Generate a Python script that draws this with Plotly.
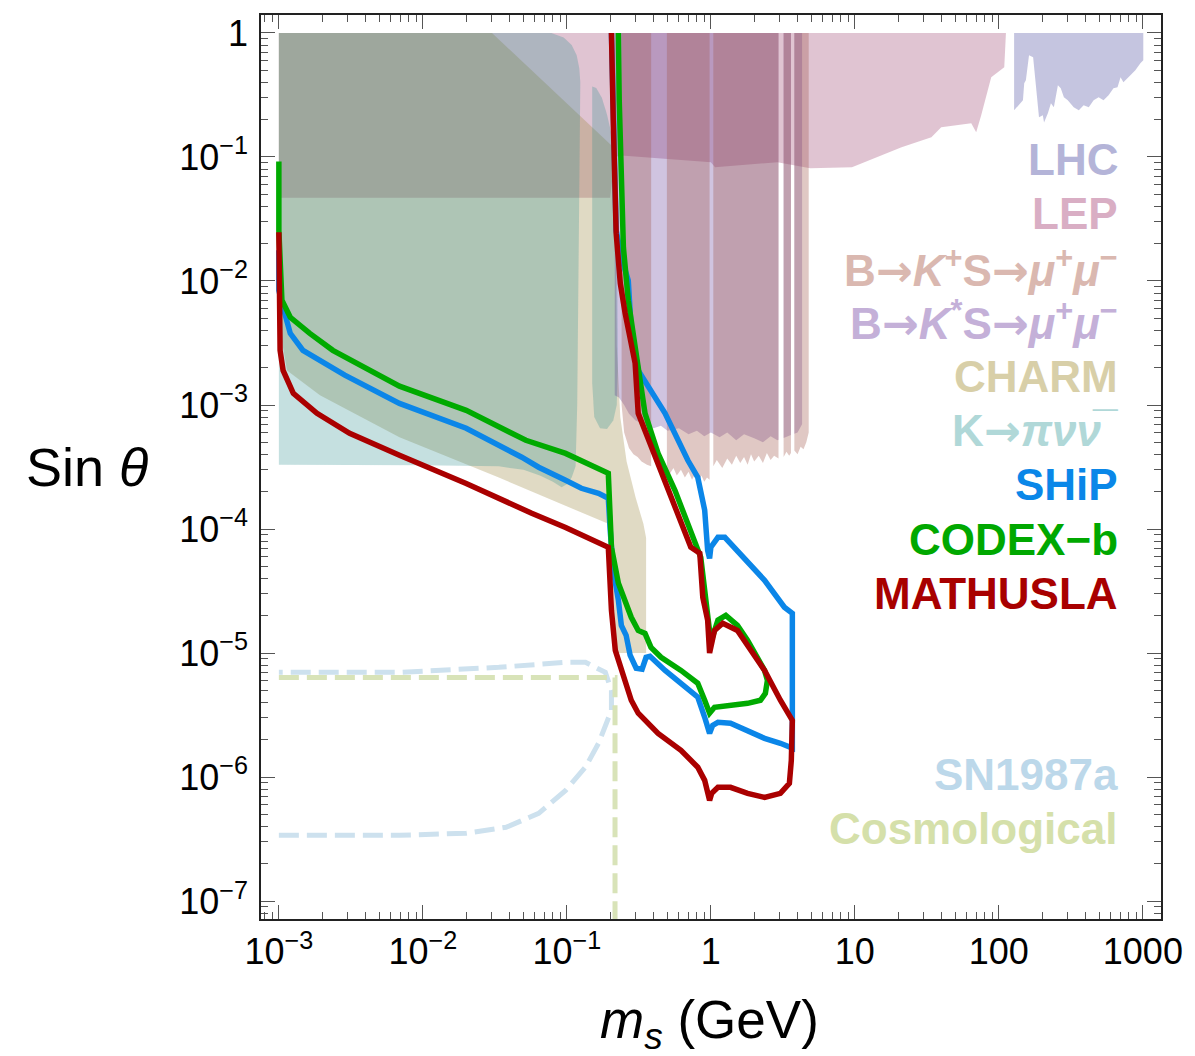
import numpy as np
import plotly.graph_objects as go

FONT = "Liberation Sans, Arial, Helvetica, sans-serif"
ARROW = "<span style=\"font-family:'DejaVu Sans'\">→</span>"

# ---------------------------------------------------------------------------
# Excluded regions: scalar mass m_s [GeV] and mixing sin(theta)
# ---------------------------------------------------------------------------
# LEP: lower edge of the excluded band (region extends up to sin(theta)=1)
lep_m = [1e-3, 0.2, 0.215, 0.239, 1.0, 1.07, 2.9, 4.9, 9.55, 14.2, 21.1, 34.0,
         39.8, 64.3, 69.6, 75.4, 88.5, 109.0, 112.0]
lep_s = [0.047, 0.047, 0.1, 0.103, 0.0906, 0.0826, 0.0906, 0.081, 0.0826, 0.0995,
         0.12, 0.144, 0.174, 0.187, 0.158, 0.217, 0.44, 0.53, 1.0]

# LHC: lower edge of the excluded band at high mass
lhc_m = [127.6, 147, 150, 154, 162, 173, 178, 187, 190, 202, 206, 219, 230, 241,
         257, 269, 283, 301, 316, 331, 359, 388, 421, 455, 493, 533, 578, 625,
         667, 700, 733, 782, 820, 887, 961, 1007]
lhc_s = [0.238, 0.287, 0.393, 0.416, 0.661, 0.637, 0.44, 0.238, 0.209, 0.217,
         0.19, 0.225, 0.271, 0.252, 0.379, 0.358, 0.303, 0.287, 0.271, 0.252,
         0.238, 0.261, 0.252, 0.287, 0.303, 0.287, 0.315, 0.358, 0.365, 0.44,
         0.4, 0.431, 0.456, 0.5, 0.57, 0.602]

# CHARM beam dump: closed contour
charm_m = [1e-3, 0.0302, 0.215, 0.222, 0.235, 0.26, 0.3, 0.34, 0.355, 0.355,
           0.22, 0.205, 0.194, 0.0337, 6.88e-3, 1.93e-3, 1.14e-3, 1.02e-3, 1e-3]
charm_s = [1.0, 1.0, 0.117, 3e-3, 8e-4, 3.5e-4, 1.8e-4, 1.1e-4, 8.5e-5, 1e-5,
           1e-5, 5e-5, 1.1e-4, 2.6e-4, 5.5e-4, 1.2e-3, 1.9e-3, 4e-3, 8e-3]

# K -> pi nu nubar: two pieces on either side of the pi0 window
kpi_m1 = [1e-3, 0.01, 0.0337, 0.05, 0.065, 0.08, 0.092, 0.1, 0.108, 0.115, 0.118,
          0.122, 0.124, 0.122, 0.117, 0.108, 0.095, 0.078, 1e-3]
kpi_s1 = [3.3e-4, 3.27e-4, 3.2e-4, 3.0e-4, 2.7e-4, 2.4e-4, 2.17e-4, 2.3e-4, 2.6e-4,
          3.2e-4, 1e-3, 0.05, 0.4, 0.52, 0.66, 0.8, 0.92, 1.0, 1.0]
kpi_m2 = [0.15, 0.16, 0.175, 0.19, 0.205, 0.215, 0.222, 0.226, 0.222, 0.21, 0.19,
          0.17, 0.155, 0.15]
kpi_s2 = [0.37, 0.36, 0.3, 0.22, 0.15, 0.1, 0.05, 2e-3, 1e-3, 7.5e-4, 6.4e-4,
          6.5e-4, 8e-4, 1.5e-3]

# B -> K* S -> mu mu : lower edge, with vetoed resonance windows
kstar_m = [0.215, 0.23, 0.25, 0.27, 0.3, 0.35, 0.4, 0.45, 0.5, 0.6, 0.7, 0.8, 0.9,
           1.0, 1.15, 1.3, 1.5, 1.7, 2.0, 2.3, 2.6, 2.9, 3.3, 3.7, 4.0, 4.3]
kstar_s = [1.2e-3, 1.15e-3, 1.0e-3, 8.5e-4, 7.5e-4, 7.0e-4, 6.5e-4, 6.8e-4, 6.2e-4,
           6.5e-4, 5.8e-4, 6.2e-4, 5.6e-4, 6.0e-4, 5.5e-4, 6.0e-4, 5.2e-4, 5.8e-4,
           5.4e-4, 5.0e-4, 5.6e-4, 5.2e-4, 5.5e-4, 5.8e-4, 6.0e-4, 7e-4]
kstar_veto = [(2.95, 3.2), (3.6, 3.8)]

# B -> K+ S -> mu mu : lower edge, with vetoed windows
kplus_m = [0.24, 0.25, 0.27, 0.29, 0.31, 0.33, 0.36, 0.385,
           0.495, 0.52, 0.55, 0.58, 0.62, 0.66, 0.7, 0.74, 0.78, 0.82, 0.86, 0.9, 0.94, 0.98,
           1.04, 1.1, 1.2, 1.3, 1.4, 1.5, 1.6, 1.7, 1.8, 1.9, 2.0, 2.15, 2.3, 2.45, 2.6, 2.75, 2.95,
           3.2, 3.35, 3.5, 3.6,
           3.8, 4.0, 4.2, 4.4, 4.6, 4.78]
kplus_s = [1.0e-3, 6e-4, 4.5e-4, 4.0e-4, 3.8e-4, 3.5e-4, 3.3e-4, 3.2e-4,
           3.0e-4, 2.8e-4, 3.1e-4, 2.7e-4, 3.0e-4, 2.6e-4, 2.9e-4, 2.5e-4, 2.8e-4, 2.4e-4,
           2.7e-4, 2.4e-4, 2.6e-4, 2.5e-4,
           3.2e-4, 3.6e-4, 3.1e-4, 3.7e-4, 3.3e-4, 3.9e-4, 3.4e-4, 3.8e-4, 3.3e-4, 4.0e-4,
           3.5e-4, 3.9e-4, 3.4e-4, 4.1e-4, 3.6e-4, 3.9e-4, 3.7e-4,
           3.8e-4, 4.2e-4, 3.9e-4, 4.1e-4,
           4.3e-4, 4.0e-4, 4.6e-4, 4.4e-4, 5e-4, 6e-4]
kplus_veto = [(0.385, 0.495), (0.98, 1.04), (2.95, 3.2), (3.6, 3.8)]

# Astrophysical / cosmological bounds (dashed)
sn_m = [1e-3, 6.88e-3, 0.02, 0.0378, 0.0637, 0.098, 0.1346, 0.166, 0.204, 0.204,
        0.185, 0.1346, 0.098, 0.0337, 6.88e-3, 1e-3]
sn_s = [3.39e-7, 3.39e-7, 3.52e-7, 3.93e-7, 5.09e-7, 7.8e-7, 1.2e-6, 1.87e-6, 3.45e-6,
        5.0e-6, 6.98e-6, 8.41e-6, 8.41e-6, 7.67e-6, 6.98e-6, 6.98e-6]
cosmo_m = [1e-3, 0.216, 0.216]
cosmo_s = [6.35e-6, 6.35e-6, 1e-8]

# ---------------------------------------------------------------------------
# Projected sensitivities
# ---------------------------------------------------------------------------
ship_m = [1.0e-3, 1.0e-3, 1.07e-3, 1.2e-3, 1.47e-3, 2.87e-3, 6.88e-3, 0.02, 0.0486,
          0.0637, 0.098, 0.126, 0.166, 0.194, 0.2, 0.21, 0.228, 0.239, 0.258, 0.275,
          0.303, 0.333, 0.355, 0.378, 0.481, 0.62, 0.811, 0.906, 0.98, 1.03, 1.12,
          1.37, 1.8, 2.36, 3.04, 3.68, 3.68, 3.24, 2.36, 1.37, 1.25, 1.12, 1.0, 0.98,
          0.95, 0.906, 0.811, 0.692, 0.481, 0.313, 0.28, 0.267, 0.239, 0.22, 0.217,
          0.21, 0.204]
ship_s = [0.0177, 0.0084, 0.00614, 0.00378, 0.00276, 0.00174, 0.00103, 6.49e-4,
          3.79e-4, 3.15e-4, 2.47e-4, 2.13e-4, 1.94e-4, 1.77e-4, 9.77e-5, 4.65e-5,
          2.66e-5, 1.67e-5, 1.39e-5, 9.59e-6, 7.54e-6, 7.4e-6, 9.23e-6, 9.42e-6,
          7.24e-6, 5.7e-6, 4.4e-6, 3.03e-6, 2.25e-6, 2.61e-6, 2.76e-6, 2.71e-6,
          2.38e-6, 2.05e-6, 1.87e-6, 1.71e-6, 2.09e-5, 2.34e-5, 3.86e-5, 7.67e-5,
          8.57e-5, 8.57e-5, 7.13e-5, 5.8e-5, 6.73e-5, 1.42e-4, 2.61e-4, 3.58e-4,
          8.57e-4, 1.9e-3, 4.0e-3, 0.0101, 0.0155, 0.0256, 0.0649, 0.287, 1.0]

codex_m = [1.0e-3, 1.0e-3, 1.05e-3, 1.2e-3, 1.64e-3, 2.37e-3, 6.88e-3, 0.02, 0.0519,
           0.098, 0.194, 0.2, 0.204, 0.228, 0.254, 0.28, 0.313, 0.349, 0.384, 0.451,
           0.62, 0.811, 0.906, 0.98, 1.06, 1.37, 1.8, 2.21, 2.39, 2.47, 2.36, 1.8,
           1.53, 1.27, 1.12, 1.0, 0.921, 0.851, 0.563, 0.43, 0.349, 0.313, 0.267,
           0.247, 0.239, 0.231, 0.228]
codex_s = [0.092, 0.0256, 0.00699, 0.0051, 0.00378, 0.00276, 0.00142, 9.05e-4,
           5.19e-4, 4.07e-4, 2.81e-4, 1.42e-4, 7.13e-5, 3.65e-5, 2.52e-5, 1.94e-5,
           1.52e-5, 1.44e-5, 1.11e-5, 9.23e-6, 7.24e-6, 5.7e-6, 4.16e-6, 3.27e-6,
           3.65e-6, 3.79e-6, 3.93e-6, 4.16e-6, 4.73e-6, 6.02e-6, 7.24e-6, 1.26e-5,
           1.67e-5, 2.01e-5, 1.84e-5, 1.23e-5, 2.66e-5, 5.91e-5, 2.05e-4, 4.07e-4,
           8.57e-4, 2.17e-3, 6.99e-3, 0.0187, 0.0649, 0.287, 1.0]

mathusla_m = [1.0e-3, 1.0e-3, 1.02e-3, 1.07e-3, 1.26e-3, 1.84e-3, 3.1e-3, 6.88e-3,
              0.02, 0.057, 0.098, 0.194, 0.204, 0.217, 0.239, 0.28, 0.313, 0.43,
              0.62, 0.811, 0.906, 0.98, 1.014, 1.12, 1.37, 1.8, 2.36, 3.04, 3.51,
              3.62, 3.68, 3.04, 2.36, 1.8, 1.53, 1.21, 1.06, 0.98, 0.95, 0.879,
              0.838, 0.726, 0.481, 0.384, 0.313, 0.298, 0.275, 0.254, 0.235, 0.22,
              0.21, 0.204]
mathusla_s = [0.0247, 0.0084, 0.00276, 0.0019, 0.00124, 8.57e-4, 5.91e-4, 3.93e-4,
              2.33e-4, 1.34e-4, 1.03e-4, 7.13e-5, 2.21e-5, 1.05e-5, 7.24e-6, 4.16e-6,
              3.27e-6, 2.25e-6, 1.64e-6, 1.2e-6, 9.4e-7, 6.48e-7, 7.39e-7, 8.26e-7,
              8.26e-7, 7.39e-7, 6.85e-7, 7.39e-7, 8.89e-7, 1.36e-6, 2.86e-6, 4.16e-6,
              7.24e-6, 1.15e-5, 1.52e-5, 1.74e-5, 1.52e-5, 1.0e-5, 1.84e-5, 2.81e-5,
              6.37e-5, 7.13e-5, 2.33e-4, 4.56e-4, 8.57e-4, 2.17e-3, 3.33e-3, 5.5e-3,
              9.58e-3, 0.0243, 0.198, 1.0]

# ---------------------------------------------------------------------------
fig = go.Figure()


def add_region(m, s, color):
    fig.add_trace(go.Scatter(x=m, y=s, mode="lines", fill="toself", fillcolor=color,
                             line=dict(width=0), hoverinfo="skip", showlegend=False))


def band_pieces(m, s, vetoes, top=1.0):
    """Split a band (lower edge m,s up to `top`) into polygons around veto windows."""
    lm, ls = np.log10(m), np.log10(s)
    edges = [m[0]] + [v for w in vetoes for v in w] + [m[-1]]
    xs_all, ys_all = [], []
    for a, b in zip(edges[0::2], edges[1::2]):
        xs = [a] + [x for x in m if a < x < b] + [b]
        ys = list(10 ** np.interp(np.log10(xs), lm, ls))
        xs_all += xs + xs[::-1] + [None]
        ys_all += ys + [top] * len(xs) + [None]
    return xs_all, ys_all


add_region(lep_m + [1e-3], lep_s + [1.0], "rgba(152,58,105,0.30)")
add_region([lhc_m[0]] + lhc_m + [lhc_m[-1]], [1.0] + lhc_s + [1.0], "rgba(62,62,152,0.30)")
add_region(charm_m, charm_s, "rgba(152,132,58,0.30)")
add_region(kpi_m1, kpi_s1, "rgba(40,140,140,0.27)")
add_region(kpi_m2, kpi_s2, "rgba(40,140,140,0.27)")
kx, ky = band_pieces(kstar_m, kstar_s, kstar_veto)
add_region(kx, ky, "rgba(87,44,145,0.28)")
kx, ky = band_pieces(kplus_m, kplus_s, kplus_veto)
add_region(kx, ky, "rgba(161,88,76,0.33)")

fig.add_trace(go.Scatter(x=sn_m, y=sn_s, mode="lines", hoverinfo="skip", showlegend=False,
                         line=dict(color="#cde1ee", width=5, dash="20px,8px")))
fig.add_trace(go.Scatter(x=cosmo_m, y=cosmo_s, mode="lines", hoverinfo="skip", showlegend=False,
                         line=dict(color="#d8e3b8", width=5, dash="20px,8px")))

for m, s, col in [(ship_m, ship_s, "#0b86e8"),
                  (codex_m, codex_s, "#00aa00"),
                  (mathusla_m, mathusla_s, "#aa0000")]:
    fig.add_trace(go.Scatter(x=m, y=s, mode="lines", hoverinfo="skip", showlegend=False,
                             line=dict(color=col, width=5.5, shape="linear")))

# ---------------------------------------------------------------------------
# Axes
x_major = [1e-3, 1e-2, 1e-1, 1, 10, 100, 1000]
x_labels = ["10<sup>−3</sup>", "10<sup>−2</sup>", "10<sup>−1</sup>", "1", "10", "100", "1000"]
y_major = [1e-7, 1e-6, 1e-5, 1e-4, 1e-3, 1e-2, 1e-1, 1]
y_labels = ["10<sup>−7</sup>", "10<sup>−6</sup>", "10<sup>−5</sup>", "10<sup>−4</sup>",
            "10<sup>−3</sup>", "10<sup>−2</sup>", "10<sup>−1</sup>", "1"]


def minor_vals(lo, hi):
    return [k * 10.0 ** e for e in range(lo, hi) for k in range(2, 10)]


axis_style = dict(type="log", showgrid=False, zeroline=False, showline=True,
                  linecolor="#222", linewidth=1.5, mirror="ticks", ticks="inside",
                  ticklen=14, tickwidth=1.3, tickcolor="#555",
                  tickfont=dict(family=FONT, size=36, color="black"))

fig.update_xaxes(**axis_style, range=[-3.124, 3.126], tickvals=x_major, ticktext=x_labels,
                 ticklabelstandoff=0,
                 minor=dict(tickmode="array", tickvals=minor_vals(-4, 4), ticks="inside",
                            ticklen=7, tickwidth=1, tickcolor="#555", showgrid=False))
fig.update_yaxes(**axis_style, range=[-7.145, 0.145], tickvals=y_major, ticktext=y_labels,
                 ticklabelstandoff=4,
                 minor=dict(tickmode="array", tickvals=minor_vals(-8, 1), ticks="inside",
                            ticklen=7, tickwidth=1, tickcolor="#555", showgrid=False))

# ---------------------------------------------------------------------------
# Text: axis titles and region labels
annotations = [
    dict(text="Sin <i>θ</i>", x=-0.193, y=0.4997, xanchor="center", yanchor="middle",
         font=dict(family=FONT, size=54, color="black")),
    dict(text="<i>m<sub>s</sub></i> (GeV)", x=0.4985, y=-0.116, xanchor="center",
         yanchor="middle", font=dict(family=FONT, size=53, color="black")),
]

label_text = ["LHC", "LEP",
              "B" + ARROW + "<i>K</i><sup>+</sup>S" + ARROW + "<i>μ</i><sup>+</sup><i>μ</i><sup>−</sup>",
              "B" + ARROW + "<i>K</i><sup>*</sup>S" + ARROW + "<i>μ</i><sup>+</sup><i>μ</i><sup>−</sup>",
              "CHARM", "K" + ARROW + "<i>πνν\u0305</i>", "SHiP", "CODEX−b", "MATHUSLA",
              "SN1987a", "Cosmological"]
label_color = ["#b4b4d8", "#d9aec4", "#dab8b0", "#c4b0d8", "#d8cfa8", "#b0d8d8",
               "#0a87e8", "#00a800", "#a80000", "#bcd8ea", "#d5e0aa"]
label_y = [0.8404, 0.7807, 0.7198, 0.6612, 0.6003, 0.5406, 0.4809, 0.4200, 0.3603,
           0.1601, 0.1004]

for t, c, y in zip(label_text, label_color, label_y):
    annotations.append(dict(text="<b>" + t + "</b>", x=0.954, y=y, xanchor="right",
                            yanchor="middle",
                            font=dict(family=FONT, size=44, color=c)))

for a in annotations:
    a.update(xref="paper", yref="paper", showarrow=False)

fig.update_layout(width=1195, height=1056, margin=dict(l=261, r=29, t=15, b=137),
                  paper_bgcolor="white", plot_bgcolor="white", annotations=annotations,
                  showlegend=False)

fig.write_html("out.html")
